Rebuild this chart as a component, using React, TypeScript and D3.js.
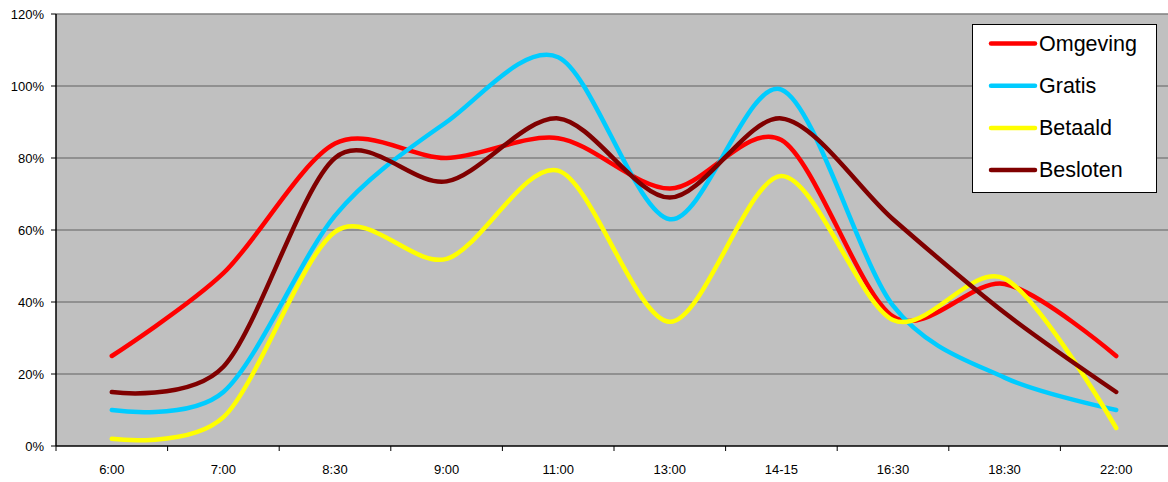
import React from "react";
import * as d3 from "d3";

const categories = ["6:00", "7:00", "8:30", "9:00", "11:00", "13:00", "14-15", "16:30", "18:30", "22:00"];
const omgeving = [25, 48, 84, 80, 85.5, 71.5, 85, 36, 45, 25];
const gratis = [10, 15, 64, 90, 108, 63, 99, 39, 19, 10];
const betaald = [2, 8, 59.5, 52, 76.5, 34.5, 75, 35, 46.5, 5];
const besloten = [15, 22, 80, 73.5, 91, 69, 91, 63, 37, 15];
const yTicks = [0, 20, 40, 60, 80, 100, 120];

const seriesNames = ["Omgeving", "Gratis", "Betaald", "Besloten"];
const seriesColors = ["#FF0000", "#00CCFF", "#FFFF00", "#800000"];
const seriesData = [omgeving, gratis, betaald, besloten];

const W = 1168;
const H = 482;
const left = 56;
const right = 1172;
const top = 14;
const bottom = 446;

export default function App() {
  const x = d3.scaleBand<string>().domain(categories).range([left, right]).padding(0);
  const y = d3.scaleLinear().domain([0, 120]).range([bottom, top]);
  const line = d3
    .line<number>()
    .x((_, i) => (x(categories[i]) as number) + x.bandwidth() / 2)
    .y((d) => y(d))
    .curve(d3.curveCardinal.tension(0.1));

  const font = "Arial, 'Liberation Sans', sans-serif";

  return (
    <div style={{ position: "absolute", left: 0, top: 0 }}>
      <svg width={W} height={H} style={{ display: "block" }}>
        <rect x={0} y={0} width={W} height={H} fill="#FFFFFF" />
        <rect x={left} y={top} width={right - left} height={bottom - top} fill="#C0C0C0" />
        {yTicks.map((t) => (
          <g key={t}>
            {t > 0 && (
              <line x1={left} x2={right} y1={y(t)} y2={y(t)} stroke="#808080" strokeWidth={1.5} />
            )}
            <line x1={left - 5} x2={left} y1={y(t)} y2={y(t)} stroke="#000" strokeWidth={1} />
            <text
              x={left - 12}
              y={y(t)}
              textAnchor="end"
              dominantBaseline="central"
              fontFamily={font}
              fontSize={13}
              fill="#000"
            >
              {t + "%"}
            </text>
          </g>
        ))}
        <line x1={left} x2={left} y1={top} y2={bottom} stroke="#000" strokeWidth={1.5} />
        <line x1={left} x2={right} y1={bottom} y2={bottom} stroke="#000" strokeWidth={1.5} />
        {categories.map((c) => (
          <g key={c}>
            <line x1={x(c) as number} x2={x(c) as number} y1={bottom} y2={bottom + 5} stroke="#000" strokeWidth={1} />
            <text
              x={(x(c) as number) + x.bandwidth() / 2}
              y={469}
              textAnchor="middle"
              dominantBaseline="central"
              fontFamily={font}
              fontSize={13}
              fill="#000"
            >
              {c}
            </text>
          </g>
        ))}
        {seriesData.map((s, i) => (
          <path
            key={seriesNames[i]}
            d={line(s) || ""}
            fill="none"
            stroke={seriesColors[i]}
            strokeWidth={4.5}
            strokeLinecap="round"
            strokeLinejoin="round"
          />
        ))}
        <g>
          <rect x={972.5} y={24.5} width={184} height={168} fill="#FFFFFF" stroke="#000" strokeWidth={1} />
          {seriesNames.map((n, i) => {
            const cy = 43.5 + i * 42.2;
            return (
              <g key={n}>
                <line x1={991} x2={1035} y1={cy} y2={cy} stroke={seriesColors[i]} strokeWidth={4.5} strokeLinecap="round" />
                <text x={1039} y={cy} dominantBaseline="central" fontFamily={font} fontSize={21.5} fill="#000">
                  {n}
                </text>
              </g>
            );
          })}
        </g>
      </svg>
    </div>
  );
}
